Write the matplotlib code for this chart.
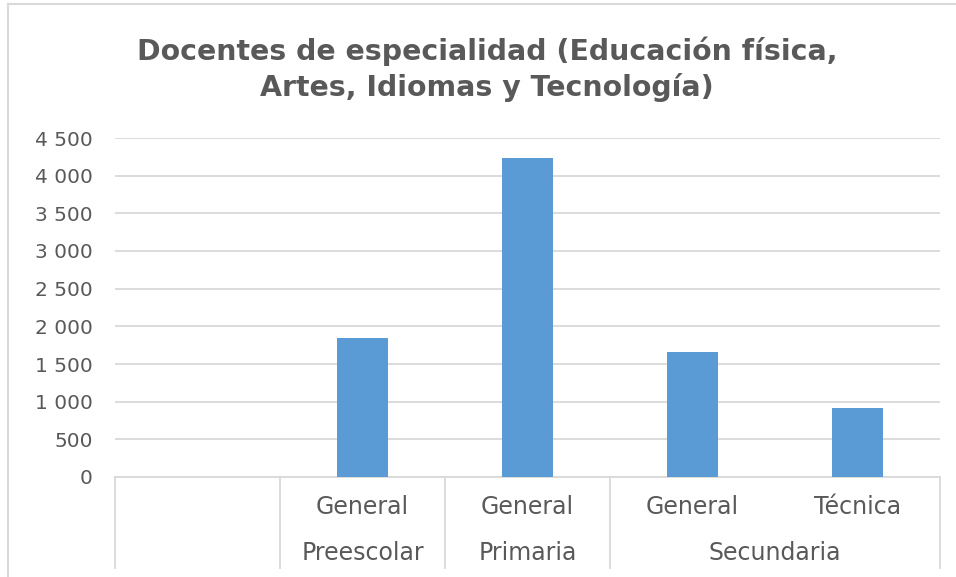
import matplotlib.pyplot as plt
from matplotlib.lines import Line2D
from matplotlib.ticker import FuncFormatter
import matplotlib.transforms as mtransforms

# data
groups = ["", "Preescolar", "Primaria", "Secundaria", "Secundaria"]
subcats = ["", "General", "General", "General", "Técnica"]
values = [0, 1845, 4240, 1665, 915]

title = "Docentes de especialidad (Educación física,\nArtes, Idiomas y Tecnología)"
text_color = "#595959"
grid_color = "#d9d9d9"
bar_color = "#5b9bd5"

plt.rcParams['font.family'] = ['DejaVu Sans']

fig = plt.figure(figsize=(9.56, 5.77), dpi=100)
W, H = 956, 577
ax = fig.add_axes([115 / W, 1 - 477 / H, 825 / W, 339 / H])

x = list(range(len(values)))
ax.bar(x, values, width=0.315, color=bar_color, zorder=3)
ax.set_xlim(-0.5, len(values) - 0.5)
ax.set_ylim(0, 4500)
ax.set_yticks(range(0, 4501, 500))
ax.yaxis.set_major_formatter(FuncFormatter(lambda v, p: f"{int(v):,}".replace(",", " ")))
ax.tick_params(axis='y', length=0, labelsize=14.5, labelcolor=text_color, pad=16)
ax.tick_params(axis='x', length=0, labelbottom=False)
ax.grid(axis='y', color=grid_color, linewidth=1.3, zorder=0)
for s in ["top", "right", "left"]:
    ax.spines[s].set_visible(False)
ax.spines["bottom"].set_color(grid_color)
ax.spines["bottom"].set_linewidth(1.3)

# multi-level category table below the axis
trans = mtransforms.blended_transform_factory(ax.transData, ax.transAxes)
table_bottom = -(568 - 477) / 339
row1 = -(507 - 477) / 339
row2 = -(553 - 477) / 339

bounds = [-0.5]
for i in range(1, len(groups)):
    if groups[i] != groups[i - 1]:
        bounds.append(i - 0.5)
bounds.append(len(groups) - 0.5)
for b in bounds:
    ax.plot([b, b], [0, table_bottom], transform=trans, color=grid_color,
            linewidth=1.3, clip_on=False)

for i, s in enumerate(subcats):
    if s:
        ax.text(i, row1, s, transform=trans, ha='center', va='center',
                fontsize=17, color=text_color)

start = 0
for i in range(1, len(groups) + 1):
    if i == len(groups) or groups[i] != groups[start]:
        if groups[start]:
            ax.text((start + i - 1) / 2, row2, groups[start], transform=trans,
                    ha='center', va='center', fontsize=17, color=text_color)
        start = i

fig.text(487 / W, 1 - 69 / H, title, ha='center', va='center', fontsize=20.4,
         fontweight='bold', color=text_color, linespacing=1.3)

# chart frame: only the top and left edges fall inside the picture
fig.add_artist(Line2D([8 / W, 1.0], [1 - 4 / H, 1 - 4 / H], transform=fig.transFigure,
                      color=grid_color, linewidth=1.5))
fig.add_artist(Line2D([8 / W, 8 / W], [0, 1 - 4 / H], transform=fig.transFigure,
                      color=grid_color, linewidth=1.5))

fig.savefig("out.png", dpi=100)
